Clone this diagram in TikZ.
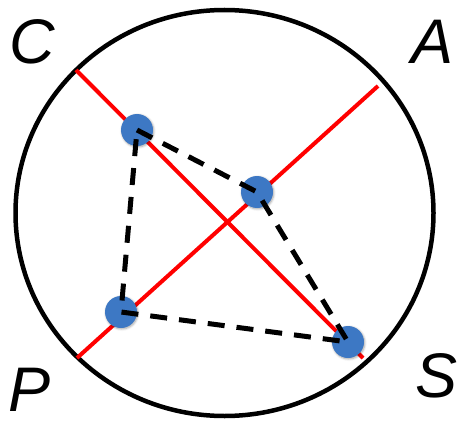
\documentclass[tikz,border=0pt]{standalone}
\usepackage{fontspec}
\setmainfont{Liberation Sans}
\usetikzlibrary{shadows.blur}
\definecolor{mRed}{HTML}{FF0000}
\definecolor{mBlue}{HTML}{3D78C4}
\begin{document}
\begin{tikzpicture}[
  x=1pt, y=-1pt,
  every node/.style={font=\fontsize{63}{63}\selectfont\itshape,
                     inner sep=0pt, anchor=base},
  axis/.style={draw=mRed, line width=4pt},
  dot/.style={circle, fill=mBlue, inner sep=0pt, minimum size=32pt, anchor=center,
              blur shadow={shadow blur steps=5, shadow xshift=0.8pt,
              shadow yshift=-1pt, shadow opacity=35}},
  link/.style={draw=black, line width=5pt, dash pattern=on 17pt off 12pt},
]
  \useasboundingbox (0,0) rectangle (462,422);

  % Outer ring
  \draw[line width=4.5pt] (224.5,213) ellipse [x radius=209, y radius=203];

  % Axes
  \coordinate (c1) at (76,70);
  \coordinate (s1) at (363,358);
  \coordinate (a1) at (378,86);
  \coordinate (p1) at (77,358);
  \draw[axis] (c1) -- (s1);
  \draw[axis] (a1) -- (p1);

  % Points
  \node[dot] (d1) at (137,130) {};
  \node[dot] (d2) at (257,192) {};
  \node[dot] (d3) at (121,312) {};
  \node[dot] (d4) at (348,342) {};

  % Dashed links
  \draw[link] (d1.center) -- (d2.center) -- (d4.center) -- (d3.center) -- (d1.center);

  % Labels
  \node (lc) at (32,64) {C};
  \node (la) at (433,64) {A};
  \node (lp) at (30,411) {P};
  \node (ls) at (437,397) {S};
\end{tikzpicture}
\end{document}
